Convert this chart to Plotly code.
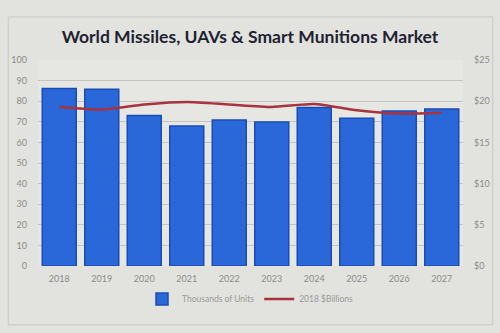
import plotly.graph_objects as go

years = ["2018", "2019", "2020", "2021", "2022", "2023", "2024", "2025", "2026", "2027"]
units_thousands = [86.2, 85.8, 73.0, 68.0, 70.9, 69.9, 77.0, 71.7, 75.2, 76.2]
value_billions = [19.3, 19.0, 19.6, 19.9, 19.6, 19.3, 19.65, 18.9, 18.5, 18.6]

fig = go.Figure()

fig.add_trace(go.Bar(
    x=years, y=units_thousands, name="Thousands of Units",
    marker=dict(color="#2a67d8", line=dict(color="#1a4cb8", width=1.5)),
    yaxis="y",
))

fig.add_trace(go.Scatter(
    x=years, y=value_billions, name="2018 $Billions",
    mode="lines", line=dict(color="#a8323e", width=2.5, shape="spline", smoothing=0.6),
    yaxis="y2",
))

tick_font = dict(family="Lato, Open Sans, sans-serif", size=9, color="#8c8c8c")

fig.update_layout(
    width=500, height=333,
    paper_bgcolor="#e2e2de",
    plot_bgcolor="#e6e6e2",
    margin=dict(l=38, r=37, t=60, b=67, autoexpand=False),
    bargap=0.2,
    title=dict(
        text="<b>World Missiles, UAVs &amp; Smart Munitions Market</b>",
        x=0.5, xanchor="center", y=0.89, yanchor="middle",
        font=dict(family="Lato, Open Sans, sans-serif", size=17.5, color="#1e2233"),
    ),
    xaxis=dict(tickfont=tick_font, showgrid=False, showline=False, ticks="",
               ticklabelstandoff=6, automargin=False),
    yaxis=dict(
        range=[0, 100], dtick=10, tickfont=tick_font,
        showgrid=True, gridcolor="#c4c4c4", gridwidth=1,
        zeroline=False, ticks="", ticklabelstandoff=10, automargin=False,
    ),
    yaxis2=dict(
        range=[0, 25], dtick=5, overlaying="y", side="right",
        tickprefix="$", tickfont=tick_font, showgrid=False,
        zeroline=False, ticks="", ticklabelstandoff=10, automargin=False,
    ),
    legend=dict(
        orientation="h", x=0.5, xanchor="center",
        yref="container", y=0.102, yanchor="middle",
        font=dict(family="Lato, Open Sans, sans-serif", size=8.5, color="#9a9a9a"),
        bgcolor="rgba(0,0,0,0)", itemwidth=30,
    ),
    shapes=[dict(
        type="rect", xref="paper", yref="paper",
        x0=-0.07, x1=1.07, y0=-0.286, y1=1.209,
        line=dict(color="#c8c8c4", width=1), fillcolor="rgba(0,0,0,0)",
        layer="below",
    )],
)

fig.write_html("out.html")
